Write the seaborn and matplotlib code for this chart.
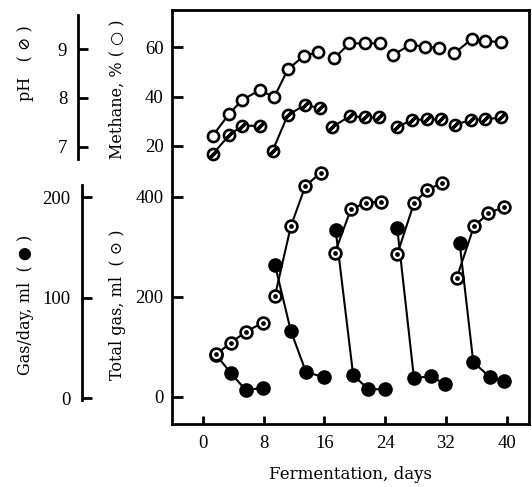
import numpy as np
import pandas as pd
import matplotlib
matplotlib.use("Agg")
import matplotlib.pyplot as plt
import seaborn as sns

# ---------------- data ----------------
methane_days = [1.3, 3.5, 5.2, 7.5, 9.4, 11.2, 13.3, 15.2,
                17.3, 19.3, 21.3, 23.3,
                25.1, 27.3, 29.3, 31.1,
                33.1, 35.4, 37.2, 39.2]
methane_pct = [24, 33, 38.6, 42.6, 39.7, 51, 56.5, 58,
               55.5, 61.6, 61.6, 61.6,
               57, 61, 60.2, 59.8,
               57.6, 63.3, 62.7, 62]
methane_grp = [1] * 8 + [2] * 4 + [3] * 4 + [4] * 4

ph_days = [1.4, 3.5, 5.2, 7.5,
           9.2, 11.2, 13.5, 15.4,
           17.0, 19.4, 21.3, 23.2,
           25.6, 27.5, 29.5, 31.4,
           33.2, 35.3, 37.2, 39.2]
ph_vals = [6.86, 7.24, 7.43, 7.43,
           6.92, 7.65, 7.86, 7.79,
           7.40, 7.63, 7.60, 7.60,
           7.40, 7.55, 7.56, 7.56,
           7.45, 7.55, 7.56, 7.60]
ph_grp = [1] * 4 + [2] * 4 + [3] * 4 + [4] * 4 + [5] * 4

total_days = [1.8, 3.7, 5.7, 7.9,
              9.5, 11.6, 13.5, 15.5,
              17.4, 19.5, 21.5, 23.5,
              25.6, 27.8, 29.5, 31.5,
              33.4, 35.7, 37.6, 39.7]
total_gas = [85, 108, 130, 148,
             201, 341, 421, 448,
             288, 375, 388, 390,
             285, 387, 413, 428,
             237, 341, 367, 380]
total_grp = [1] * 4 + [2] * 4 + [3] * 4 + [4] * 4 + [5] * 4

daily_days = [1.8, 3.7, 5.7, 7.9,
              9.5, 11.6, 13.6, 16.0,
              17.5, 19.8, 21.8, 24.0,
              25.6, 27.8, 30.0, 31.9,
              33.8, 35.6, 37.8, 39.7]
daily_gas = [43, 25, 8, 10.5,
             133, 67, 26, 21,
             167, 23, 9, 9,
             169, 20, 22, 14,
             155, 36, 21, 17]
daily_grp = [1] * 4 + [2] * 4 + [3] * 4 + [4] * 4 + [5] * 4

x_ticks = [0, 8, 16, 24, 32, 40]
methane_ticks = [20, 40, 60]
ph_ticks = [7, 8, 9]
total_ticks = [0, 200, 400]
daily_ticks = [0, 100, 200]

# ---------------- layout helpers (pixel anchors) ----------------
W, H = 532, 487
def fx(px):
    return px / W
def fy(py):
    return 1 - py / H

sns.set_style("ticks")
plt.rcParams["font.family"] = ["Liberation Serif", "DejaVu Sans"]
plt.rcParams.update({"text.color": "black", "axes.edgecolor": "black",
                     "xtick.color": "black", "ytick.color": "black",
                     "axes.labelcolor": "black"})

fig = plt.figure(figsize=(W / 100, H / 100), dpi=100)

L, R, T, B = 172, 529, 10, 424
rect = [fx(L), fy(B), fx(R) - fx(L), fy(T) - fy(B)]

def lin(p0, v0, p1, v1):
    return lambda p: v0 + (p - p0) * (v1 - v0) / (p1 - p0)

meth_map = lin(145.7, 20, 47.3, 60)
ph_map = lin(146.7, 7, 49.3, 9)
tot_map = lin(396.7, 0, 196.7, 400)
day_map = lin(398.3, 0, 197.3, 200)
x_map = lin(202.7, 0, 506.7, 40)

tick_font = dict(family=["Liberation Serif", "DejaVu Sans"], size=13.5)

ax = fig.add_axes(rect)
ax_ph = fig.add_axes(rect, sharex=ax)
ax_gd = fig.add_axes(rect, sharex=ax)
ax_tot = fig.add_axes(rect, sharex=ax)

for a in (ax_ph, ax_gd, ax_tot):
    a.patch.set_alpha(0)
    for s in a.spines.values():
        s.set_visible(False)
    a.tick_params(bottom=False, labelbottom=False, left=False, labelleft=False)

for s in ax.spines.values():
    s.set_linewidth(2.0)
    s.set_color("black")

ax.set_xlim(x_map(L), x_map(R))
ax.set_ylim(meth_map(B), meth_map(T))
ax_ph.set_ylim(ph_map(B), ph_map(T))
ax_tot.set_ylim(tot_map(B), tot_map(T))
ax_gd.set_ylim(day_map(B), day_map(T))

df_m = pd.DataFrame({"day": methane_days, "val": methane_pct, "grp": methane_grp})
df_p = pd.DataFrame({"day": ph_days, "val": ph_vals, "grp": ph_grp})
df_t = pd.DataFrame({"day": total_days, "val": total_gas, "grp": total_grp})
df_d = pd.DataFrame({"day": daily_days, "val": daily_gas, "grp": daily_grp})

line_kw = dict(color="black", linewidth=1.5, estimator=None, sort=False)

sns.lineplot(data=df_m, x="day", y="val", units="grp", ax=ax, marker="o",
             markersize=8, markerfacecolor="white", markeredgecolor="black",
             markeredgewidth=1.9, **line_kw)
sns.lineplot(data=df_p, x="day", y="val", units="grp", ax=ax_ph, marker="o",
             markersize=8, markerfacecolor="white", markeredgecolor="black",
             markeredgewidth=1.9, **line_kw)
ax_ph.plot(df_p["day"], df_p["val"], linestyle="none", marker=(2, 2, -45),
           markersize=7, markeredgewidth=2.4, color="black")

sns.lineplot(data=df_d, x="day", y="val", units="grp", ax=ax_gd, marker="o",
             markersize=9.5, markerfacecolor="black", markeredgecolor="black",
             markeredgewidth=1.0, **line_kw)
sns.lineplot(data=df_t, x="day", y="val", units="grp", ax=ax_tot, marker="o",
             markersize=8.5, markerfacecolor="white", markeredgecolor="black",
             markeredgewidth=1.9, **line_kw)
ax_tot.plot(df_t["day"], df_t["val"], linestyle="none", marker="o",
            markersize=2.4, color="black")

for a in (ax, ax_ph, ax_gd, ax_tot):
    a.set_xlabel("")
    a.set_ylabel("")
    for ln in a.lines:
        ln.set_clip_on(False)

ax.set_xticks(x_ticks)
ax.set_xticklabels([str(t) for t in x_ticks], fontdict=tick_font)
ax.set_yticks(methane_ticks)
ax.set_yticklabels([str(t) for t in methane_ticks], fontdict=tick_font)
ax.tick_params(axis="x", direction="in", length=6, width=2, pad=8, top=False)
ax.tick_params(axis="y", direction="in", length=8, width=2, pad=6, right=False)

ax_tot.tick_params(left=True, labelleft=True, direction="in", length=8,
                   width=2, pad=6)
ax_tot.set_yticks(total_ticks)
ax_tot.set_yticklabels([str(t) for t in total_ticks], fontdict=tick_font)

ax.set_xlabel("Fermentation, days", family=["DejaVu Serif", "DejaVu Sans"],
              fontsize=12, labelpad=10)

# separate pH axis
p_top, p_bot, p_x = 15, 159, 78.3
ax_phs = fig.add_axes([fx(p_x), fy(p_bot), 0.02, fy(p_top) - fy(p_bot)])
ax_phs.set_ylim(ph_map(p_bot), ph_map(p_top))
# separate gas/day axis
g_top, g_bot, g_x = 185, 400, 81.7
ax_gds = fig.add_axes([fx(g_x), fy(g_bot), 0.02, fy(g_top) - fy(g_bot)])
ax_gds.set_ylim(day_map(g_bot), day_map(g_top))

for a, tks in ((ax_phs, ph_ticks), (ax_gds, daily_ticks)):
    a.patch.set_alpha(0)
    for k in ("top", "right", "bottom"):
        a.spines[k].set_visible(False)
    a.spines["left"].set_linewidth(2.0)
    a.spines["left"].set_color("black")
    a.set_xticks([])
    a.set_yticks(tks)
    a.set_yticklabels([str(t) for t in tks], fontdict=tick_font)
    a.tick_params(axis="y", direction="in", length=7, width=2, pad=8)

lab_font = dict(family=["DejaVu Serif", "DejaVu Sans"], size=11.5, rotation=90,
                ha="center", va="center", color="black")
fig.text(fx(25), fy(63), "pH   ( ⊘ )", **lab_font)
fig.text(fx(117), fy(89), "Methane, % ( ○ )", **lab_font)
fig.text(fx(25), fy(305), "Gas/day, ml  ( ● )", **lab_font)
fig.text(fx(117), fy(305), "Total gas, ml  ( ⊙ )", **lab_font)

fig.savefig("out.png", dpi=100)
